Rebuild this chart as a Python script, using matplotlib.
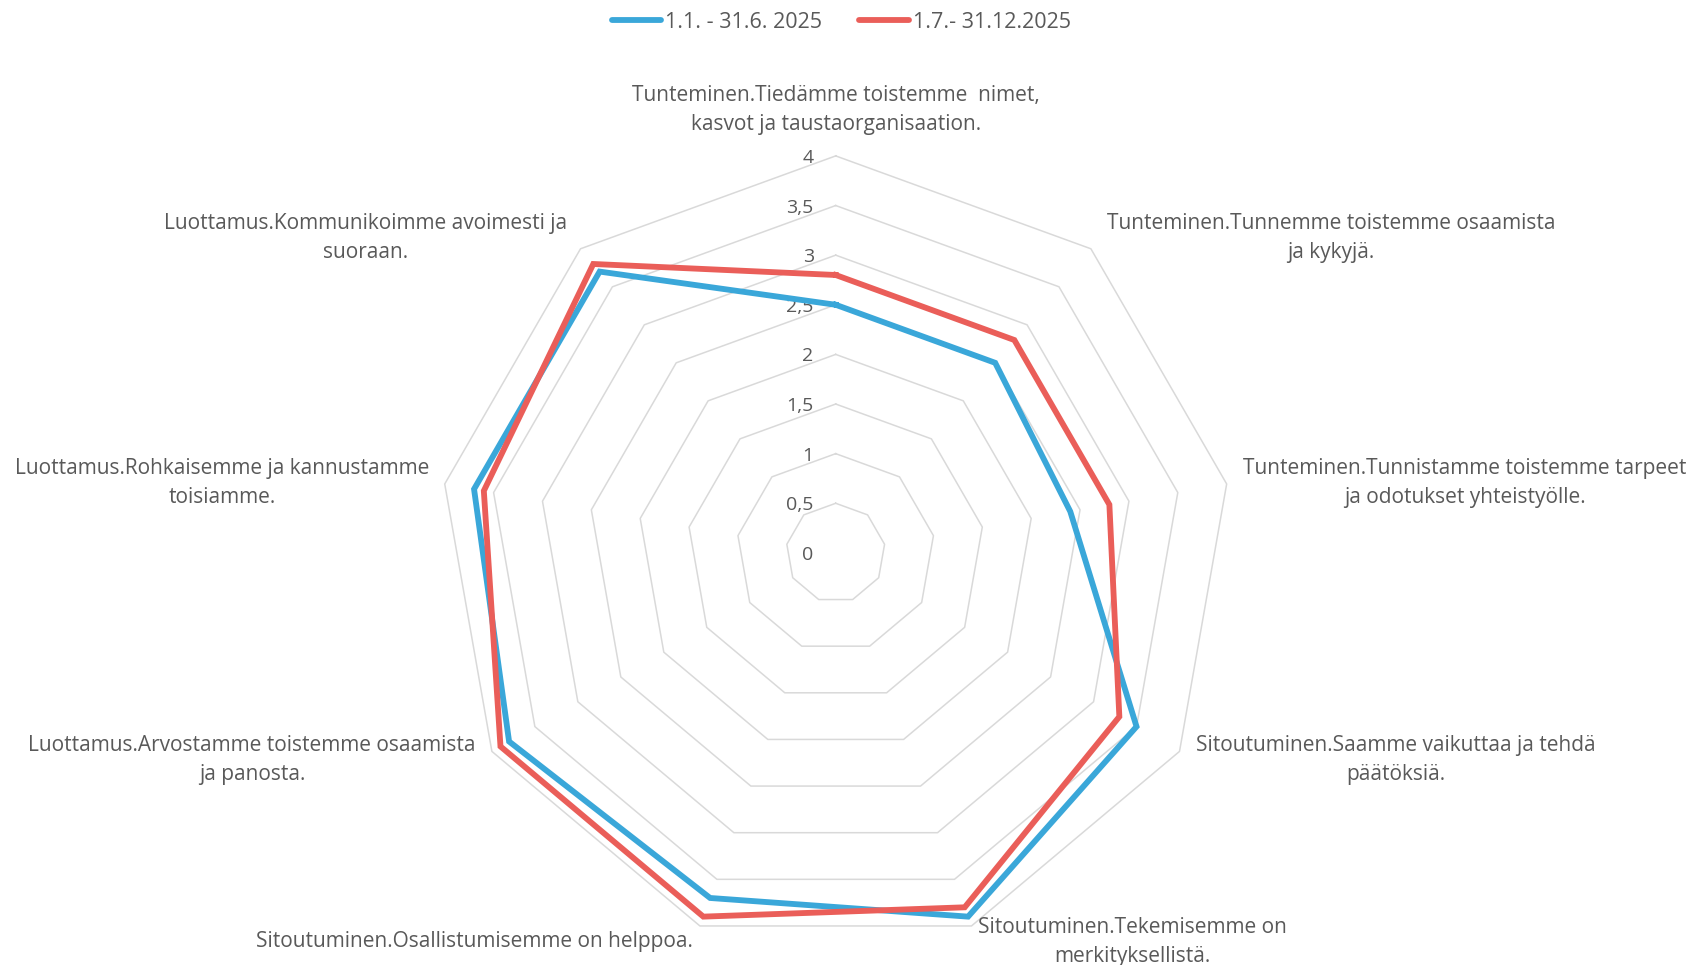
import numpy as np
import matplotlib
matplotlib.use("Agg")
import matplotlib.pyplot as plt
from matplotlib.lines import Line2D

# ~~~~~~~~~~~~~~~~~~~~ DATA ~~~~~~~~~~~~~~~~~~~~
categories = [
    "Tunteminen.Tiedämme toistemme  nimet,\nkasvot ja taustaorganisaation.",
    "Tunteminen.Tunnemme toistemme osaamista\nja kykyjä.",
    "Tunteminen.Tunnistamme toistemme tarpeet\nja odotukset yhteistyölle.",
    "Sitoutuminen.Saamme vaikuttaa ja tehdä\npäätöksiä.",
    "Sitoutuminen.Tekemisemme on\nmerkityksellistä.",
    "Sitoutuminen.Osallistumisemme on helppoa.",
    "Luottamus.Arvostamme toistemme osaamista\nja panosta.",
    "Luottamus.Rohkaisemme ja kannustamme\ntoisiamme.",
    "Luottamus.Kommunikoimme avoimesti ja\nsuoraan.",
]
series_names = ["1.1. - 31.6. 2025", "1.7.- 31.12.2025"]
first_half = [2.5, 2.5, 2.4, 3.5, 3.9, 3.7, 3.8, 3.7, 3.7]
second_half = [2.8, 2.8, 2.8, 3.3, 3.8, 3.9, 3.9, 3.6, 3.8]
levels = [0.5, 1, 1.5, 2, 2.5, 3, 3.5, 4]
level_labels = ["0", "0,5", "1", "1,5", "2", "2,5", "3", "3,5", "4"]

# ~~~~~~~~~~~~~~~~~~~~ STYLE ~~~~~~~~~~~~~~~~~~~~
plt.rcParams['font.family'] = ['Open Sans', 'DejaVu Sans']
TXT = "#595959"
GRID = "#D9D9D9"
colors = ["#3AA7D9", "#EA5E59"]
W, H = 1696, 965

fig = plt.figure(figsize=(W / 100, H / 100), dpi=100)
cx, cy, rad = 835.7, H - 552.9, 397.0
ax = fig.add_axes([(cx - rad) / W, (cy - rad) / H, 2 * rad / W, 2 * rad / H],
                  projection="polar")
ax.set_theta_offset(np.pi / 2)
ax.set_theta_direction(-1)
ax.set_ylim(0, 4)
ax.grid(False)
ax.spines["polar"].set_visible(False)
ax.set_xticks([])
ax.set_yticks([])
ax.patch.set_alpha(0)

n = len(categories)
theta = np.linspace(0, 2 * np.pi, n, endpoint=False)
closed = np.append(theta, theta[0])

# polygon rings
for lv in levels:
    ax.plot(closed, [lv] * (n + 1), color=GRID, lw=1.1, zorder=1, clip_on=False)

# radial value labels
for i, lab in enumerate(level_labels):
    ax.annotate(lab, xy=(0, i * 0.5), xytext=(-22, -2), textcoords="offset pixels",
                ha="right", va="center", fontsize=14, color=TXT, annotation_clip=False)

# series
for vals, c, name in zip([first_half, second_half], colors, series_names):
    ax.plot(closed, vals + vals[:1], color=c, lw=4.2, zorder=3, clip_on=False,
            solid_joinstyle="miter", label=name)

# category labels (figure pixel anchors, text centre)
label_pos = [(836, 110), (1331, 238), (1465, 483), (1396, 760), (1132, 942),
             (474, 942), (252, 760), (222, 483), (366, 238)]
for lab, (px, py) in zip(categories, label_pos):
    fig.text(px / W, 1 - py / H, lab, ha="center", va="center", fontsize=15,
             color=TXT, linespacing=1.5)

handles = [Line2D([0], [0], color=c, lw=4.2, solid_capstyle="round") for c in colors]
fig.legend(handles, series_names, loc="center", bbox_to_anchor=(0.496, 1 - 22 / H),
           ncol=2, frameon=False, fontsize=15.5, labelcolor=TXT, handlelength=2.3,
           handletextpad=0.2, columnspacing=1.7)

fig.savefig("out.png", dpi=100)
